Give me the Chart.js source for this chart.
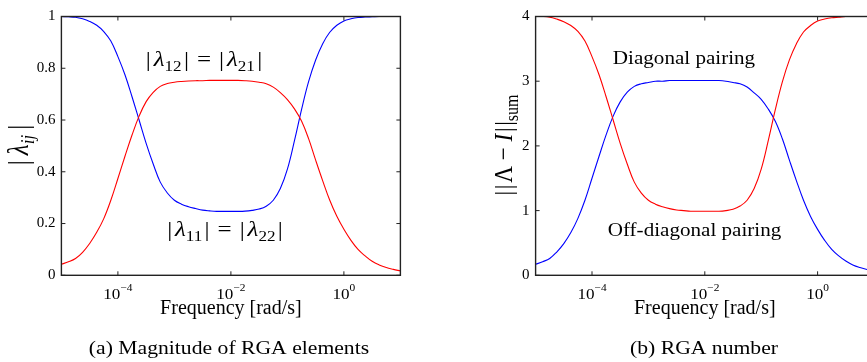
<!DOCTYPE html>
<html>
<head>
<meta charset="utf-8">
<script src="https://cdn.jsdelivr.net/npm/chart.js@4.4.0/dist/chart.umd.min.js"></script>
<style>
html, body { margin: 0; padding: 0; background: #fff; }
body { width: 867px; height: 362px; overflow: hidden; position: relative; }
canvas { position: absolute; top: 0; }
#rgaChart { left: 0; }
#numChart { left: 440px; }
</style>
</head>
<body>
<canvas id="rgaChart" width="440" height="362"></canvas>
<canvas id="numChart" width="440" height="362"></canvas>
<script>
// log10 of the frequency [rad/s] of each sample
const freqExp = [-5, -4.875, -4.75, -4.625, -4.5, -4.375, -4.25, -4.125, -4, -3.875, -3.75, -3.625, -3.5,
                 -3.375, -3.25, -3.125, -3, -2.875, -2.75, -2.625, -2.5, -2.375, -2.25, -2.125, -2,
                 -1.875, -1.75, -1.625, -1.5, -1.375, -1.25, -1.125, -1, -0.875, -0.75, -0.625, -0.5,
                 -0.375, -0.25, -0.125, 0, 0.125, 0.25, 0.375, 0.5, 0.625, 0.75, 0.875, 1];

// (a) magnitude of RGA elements
const lambda11 = [1.0, 0.999, 0.997, 0.991, 0.981, 0.966, 0.942, 0.905, 0.845, 0.775, 0.69, 0.60, 0.51,
                  0.43, 0.36, 0.318, 0.29, 0.275, 0.265, 0.258, 0.252, 0.249, 0.247, 0.247, 0.247,
                  0.247, 0.248, 0.251, 0.256, 0.267, 0.29, 0.335, 0.41, 0.52, 0.64, 0.748, 0.832,
                  0.895, 0.939, 0.966, 0.983, 0.991, 0.996, 0.998, 0.999, 1.0, 1.0, 1.0, 1.0];
const lambda12 = [0.043, 0.052, 0.065, 0.089, 0.123, 0.166, 0.219, 0.29, 0.374, 0.46, 0.542, 0.615, 0.671,
                  0.707, 0.73, 0.741, 0.746, 0.749, 0.751, 0.752, 0.752, 0.753, 0.753, 0.753, 0.753,
                  0.753, 0.752, 0.75, 0.746, 0.74, 0.727, 0.706, 0.679, 0.643, 0.596, 0.528, 0.445,
                  0.365, 0.29, 0.228, 0.178, 0.135, 0.10, 0.075, 0.054, 0.04, 0.03, 0.023, 0.017];

// (b) RGA number
const diagPairing = [0.17, 0.21, 0.26, 0.36, 0.49, 0.66, 0.88, 1.16, 1.5, 1.84, 2.17, 2.46, 2.68,
                     2.83, 2.92, 2.96, 2.98, 3.0, 3.0, 3.01, 3.01, 3.01, 3.01, 3.01, 3.01,
                     3.01, 3.01, 3.0, 2.98, 2.96, 2.91, 2.82, 2.72, 2.57, 2.38, 2.11, 1.78,
                     1.46, 1.16, 0.91, 0.71, 0.54, 0.4, 0.3, 0.22, 0.16, 0.12, 0.09, 0.07];
const offDiagPairing = [4.0, 4.0, 3.99, 3.96, 3.92, 3.86, 3.77, 3.62, 3.38, 3.1, 2.76, 2.4, 2.04,
                        1.72, 1.44, 1.27, 1.16, 1.1, 1.06, 1.03, 1.01, 1.0, 0.99, 0.99, 0.99,
                        0.99, 0.99, 1.0, 1.02, 1.07, 1.16, 1.34, 1.64, 2.08, 2.56, 2.99, 3.33,
                        3.58, 3.76, 3.86, 3.93, 3.96, 3.98, 3.99, 4.0, 4.0, 4.0, 4.0, 4.0];

// tick labels
const xTickExps = [-4, -2, 0];
const yTicksA = [0, 0.2, 0.4, 0.6, 0.8, 1];
const yTicksB = [0, 1, 2, 3, 4];

const SERIF = '"Liberation Serif", "Times New Roman", serif';
const SX = 1.14; // the original figure is a bit wider than its type

// draw a row of text runs (sub/superscripts, italics), centred on x, baseline y
function richText(ctx, runs, x, y, rotate) {
    ctx.save();
    ctx.translate(x, y);
    if (rotate) { ctx.rotate(-Math.PI / 2); ctx.scale(1, SX); } else { ctx.scale(SX, 1); }
    ctx.textBaseline = 'alphabetic';
    ctx.textAlign = 'left';
    ctx.fillStyle = '#000';
    let w = 0;
    const parts = [];
    runs.forEach(r => {
        if (r.gap) { w += r.gap; return; }
        const font = (r.it ? 'italic ' : '') + r.size + 'px ' + SERIF;
        ctx.font = font;
        const width = ctx.measureText(r.t).width;
        parts.push({t: r.t, font: font, x: w, dy: r.dy || 0});
        w += width;
    });
    parts.forEach(p => { ctx.font = p.font; ctx.fillText(p.t, p.x - w / 2, p.dy); });
    ctx.restore();
}

const figText = {
    id: 'figText',
    afterDatasetsDraw(chart, args, opts) {
        const ctx = chart.ctx;
        const a = chart.chartArea;
        const xs = chart.scales.x, ys = chart.scales.y;
        ctx.save();
        // box and inward ticks
        ctx.strokeStyle = '#222';
        ctx.lineWidth = 1.4;
        ctx.strokeRect(a.left, a.top, a.right - a.left, a.bottom - a.top);
        ctx.lineWidth = 1;
        ctx.beginPath();
        xTickExps.forEach(e => {
            const px = xs.getPixelForValue(10 ** e);
            ctx.moveTo(px, a.bottom); ctx.lineTo(px, a.bottom - 4);
            ctx.moveTo(px, a.top); ctx.lineTo(px, a.top + 4);
        });
        ys.ticks.forEach(t => {
            const py = ys.getPixelForValue(t.value);
            ctx.moveTo(a.left, py); ctx.lineTo(a.left + 4, py);
            ctx.moveTo(a.right, py); ctx.lineTo(a.right - 4, py);
        });
        ctx.stroke();
        ctx.restore();

        // x tick labels 10^e
        xTickExps.forEach(e => {
            const px = xs.getPixelForValue(10 ** e);
            richText(ctx, [
                {t: '10', size: 15},
                {t: e < 0 ? '\u2212' + (-e) : String(e), size: 10, dy: -7.5}
            ], px, 298.5);
        });

        (opts.items || []).forEach(it => richText(ctx, it.runs, it.x, it.y, it.rotate));
    }
};

function makeChart(id, red, blue, yMax, yTicks, yWidth, padRight, items) {
    const pts = arr => freqExp.map((e, i) => ({x: 10 ** e, y: arr[i]}));
    return new Chart(document.getElementById(id).getContext('2d'), {
        type: 'line',
        data: {
            datasets: [
                {data: pts(red), borderColor: '#ff0000', borderWidth: 1.1, pointRadius: 0, tension: 0.4},
                {data: pts(blue), borderColor: '#0000ff', borderWidth: 1.1, pointRadius: 0, tension: 0.4}
            ]
        },
        options: {
            responsive: false,
            animation: false,
            layout: {padding: {top: 16.5, right: padRight, left: 0, bottom: 0}},
            plugins: {
                legend: {display: false},
                tooltip: {enabled: false},
                figText: {items: items}
            },
            scales: {
                x: {
                    type: 'logarithmic',
                    min: 1e-5,
                    max: 10,
                    afterBuildTicks: s => { s.ticks = xTickExps.map(e => ({value: 10 ** e})); },
                    ticks: {display: false},
                    grid: {display: false, drawTicks: false},
                    border: {display: false},
                    title: {
                        display: true,
                        text: 'Frequency [rad/s]',
                        color: '#000',
                        font: {family: SERIF, size: 20},
                        padding: {top: 0, bottom: 41}
                    },
                    afterFit: s => { s.height = 86.7; }
                },
                y: {
                    min: 0,
                    max: yMax,
                    afterBuildTicks: s => { s.ticks = yTicks.map(v => ({value: v})); },
                    ticks: {color: '#000', font: {family: SERIF, size: 15}, padding: 6, callback: v => String(v)},
                    grid: {display: false, drawTicks: false},
                    border: {display: false},
                    afterFit: s => { s.width = yWidth; }
                }
            }
        },
        plugins: [figText]
    });
}

const sub = 15;
makeChart('rgaChart', lambda12, lambda11, 1, yTicksA, 61.4, 39.6, [
    {x: 28, y: 145, rotate: true, runs: [
        {t: '|', size: 25}, {gap: 5}, {t: '\u03bb', size: 25, it: 1}, {t: 'ij', size: 17, it: 1, dy: 5}, {gap: 5}, {t: '|', size: 25}]},
    {x: 204, y: 66, runs: [
        {t: '|', size: 22}, {gap: 2.5}, {t: '\u03bb', size: 22, it: 1}, {t: '12', size: sub, dy: 4.5}, {gap: 2}, {t: '|', size: 22},
        {gap: 1.5}, {t: ' = ', size: 22}, {gap: 1.5},
        {t: '|', size: 22}, {gap: 2.5}, {t: '\u03bb', size: 22, it: 1}, {t: '21', size: sub, dy: 4.5}, {gap: 2}, {t: '|', size: 22}]},
    {x: 225, y: 236, runs: [
        {t: '|', size: 22}, {gap: 2.5}, {t: '\u03bb', size: 22, it: 1}, {t: '11', size: sub, dy: 4.5}, {gap: 2}, {t: '|', size: 22},
        {gap: 1.5}, {t: ' = ', size: 22}, {gap: 1.5},
        {t: '|', size: 22}, {gap: 2.5}, {t: '\u03bb', size: 22, it: 1}, {t: '22', size: sub, dy: 4.5}, {gap: 2}, {t: '|', size: 22}]},
    {x: 229, y: 354, runs: [{t: '(a) Magnitude of RGA elements', size: 19}]}
]);

makeChart('numChart', offDiagPairing, diagPairing, 4, yTicksB, 95.6, 6, [
    {x: 72, y: 145, rotate: true, runs: [
        {t: '|', size: 23}, {gap: 1.5}, {t: '|', size: 23}, {gap: 2}, {t: '\u039b', size: 23}, {t: ' \u2212 ', size: 23},
        {t: 'I', size: 23, it: 1}, {gap: 2}, {t: '|', size: 23}, {gap: 1.5}, {t: '|', size: 23}, {t: 'sum', size: 16, dy: 5}]},
    {x: 244, y: 64, runs: [{t: 'Diagonal pairing', size: 18.5}]},
    {x: 254.5, y: 236, runs: [{t: 'Off-diagonal pairing', size: 18.5}]},
    {x: 264, y: 354, runs: [{t: '(b) RGA number', size: 19}]}
]);
</script>
</body>
</html>
